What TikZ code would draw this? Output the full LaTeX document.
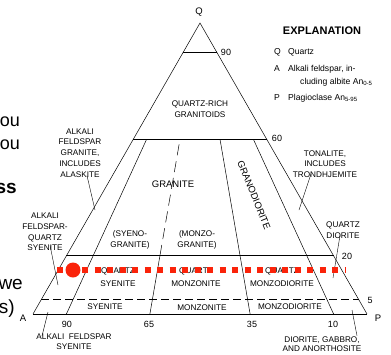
\documentclass[tikz,border=0pt]{standalone}
\usepackage{fontspec}
\setmainfont{Liberation Sans}
\usetikzlibrary{calc}
\definecolor{hlred}{RGB}{250,35,10}

\begin{document}
\begin{tikzpicture}[
  x=1pt, y=-1pt,
  edge/.style={line width=0.5pt, draw=black},
  heavy/.style={line width=1pt, draw=black},
  lead/.style={line width=0.4pt, draw=black},
  lbl/.style={align=center, inner sep=0pt, font=\fontsize{8.2}{10.8}\selectfont},
  big/.style={lbl, font=\fontsize{9.5}{11}\selectfont},
  num/.style={inner sep=0pt, font=\fontsize{9}{10}\selectfont},
  apex/.style={inner sep=0pt, font=\fontsize{9.5}{10}\selectfont},
  expl/.style={inner sep=0pt, anchor=base west, font=\fontsize{8.6}{10}\selectfont},
  slide/.style={inner sep=0pt, anchor=base east, font=\fontsize{18}{20}\selectfont},
  hl/.style={line width=6pt, draw=hlred, dash pattern=on 6pt off 6.5pt},
]
\clip (0,0) rectangle (391,354);

% ---- slide text cut off at the left ----
\node[slide] (s1) at (20,126) {ou};
\node[slide] (s2) at (20,149) {ou};
\node[slide, font=\fontsize{19}{20}\selectfont\bfseries] (s3) at (17,193) {ss};
\node[slide, font=\fontsize{19}{20}\selectfont] (s4) at (23,289) {we};
\node[slide, font=\fontsize{19}{20}\selectfont] (s5) at (15,313) {s)};

% ---- triangle ----
\coordinate (A) at (33,314);
\coordinate (P) at (367,314);
\coordinate (Q) at (200,23);
\coordinate (b90) at ($(A)!0.10!(P)$);
\coordinate (b65) at ($(A)!0.35!(P)$);
\coordinate (b35) at ($(A)!0.65!(P)$);
\coordinate (b10) at ($(A)!0.90!(P)$);

\draw[edge] (A) -- (Q) -- (P);
\draw[heavy] (A) -- (P);
\draw[edge] ($(A)!0.9!(Q)$) -- ($(P)!0.9!(Q)$);
\draw[edge] ($(A)!0.6!(Q)$) -- ($(P)!0.6!(Q)$);
\draw[heavy] ($(A)!0.2!(Q)$) -- ($(P)!0.2!(Q)$);
\draw[edge, dash pattern=on 8pt off 4pt] ($(A)!0.05!(Q)$) -- ($(P)!0.05!(Q)$);

\foreach \b in {b90,b35,b10}
  \draw[edge] (\b) -- ($(\b)!0.6!(Q)$);
\draw[edge] (b65) -- ($(b65)!0.2!(Q)$);
\draw[edge, dash pattern=on 11pt off 6pt] ($(b65)!0.2!(Q)$) -- ($(b65)!0.6!(Q)$);

% ---- corners and scale numbers ----
\node[apex] (lQ) at (199,12) {Q};
\node[apex] (lA) at (23,318) {A};
\node[apex] (lP) at (378,318) {P};
\node[num] (n90) at (226,52) {90};
\node[num] (n60) at (277,138) {60};
\node[num] (n20) at (347,256) {20};
\node[num] (n5) at (370,300) {5};
\node[num] (m90) at (67,324) {90};
\node[num] (m65) at (149,324) {65};
\node[num] (m35) at (252,324) {35};
\node[num] (m10) at (333,324) {10};

% ---- fields ----
\node[lbl] (qrg) at (200,109) {QUARTZ-RICH\\GRANITOIDS};
\node[big] (gra) at (173,184) {GRANITE};
\node[big, rotate=-68] (gdi) at (254,195) {GRANODIORITE};
\node[lbl] (syg) at (130,240) {(SYENO-\\GRANITE)};
\node[lbl] (mzg) at (197,240) {(MONZO-\\GRANITE)};
\node[lbl] (qsy) at (118,277) {QUARTZ\\[2pt]SYENITE};
\node[lbl] (qmz) at (196,277) {QUARTZ\\[2pt]MONZONITE};
\node[lbl] (qmd) at (282,277) {QUARTZ\\[2pt]MONZODIORITE};
\node[lbl] (sye) at (105,307) {SYENITE};
\node[lbl] (mzn) at (202,308) {MONZONITE};
\node[lbl] (mzd) at (290,307) {MONZODIORITE};

% ---- outside labels with leaders ----
\node[lbl] (afg) at (80,153) {ALKALI\\FELDSPAR\\GRANITE,\\INCLUDES\\ALASKITE};
\node[lbl] (afq) at (45,232) {ALKALI\\FELDSPAR-\\QUARTZ\\SYENITE};
\node[lbl] (afs) at (74,342) {ALKALI\ \ FELDSPAR\\[-1pt]SYENITE};
\node[lbl] (ton) at (325,164) {TONALITE,\\INCLUDES\\TRONDHJEMITE};
\node[lbl] (qdi) at (343,230) {QUARTZ\\DIORITE};
\node[lbl] (dga) at (322,344.5) {DIORITE,\ GABBRO,\\[-1.5pt]AND ANORTHOSITE};

\coordinate (afg-end) at (95,210);
\coordinate (afq-end) at (58,285);
\coordinate (afs-end) at (48,312);
\coordinate (ton-end) at (299,210);
\coordinate (qdi-end) at (333,278);
\coordinate (dga-end) at (352,310);
\draw[lead] ([xshift=7pt,yshift=2pt]afg.south) -- (afg-end);
\draw[lead] ([xshift=5pt,yshift=6pt]afq.south) -- (afq-end);
\draw[lead] ([xshift=-32pt,yshift=-2pt]afs.north) -- (afs-end);
\draw[lead] ([xshift=-14pt,yshift=4pt]ton.south) -- (ton-end);
\draw[lead] ([xshift=-3pt,yshift=3pt]qdi.south) -- (qdi-end);
\draw[lead] ([xshift=35pt,yshift=1pt]dga.north) -- (dga-end);

% ---- explanation ----
\node[inner sep=0pt, font=\fontsize{11}{12}\selectfont\bfseries] (ex) at (322,31) {EXPLANATION};
\node[expl] (kq) at (274,54) {Q};
\node[expl] (tq) at (288,54) {Quartz};
\node[expl] (ka) at (274,71) {A};
\node[expl] (ta) at (288,71) {Alkali feldspar, in-};
\node[expl] (ta2) at (300,84) {cluding albite An\textsubscript{0-5}};
\node[expl] (kp) at (274,100) {P};
\node[expl] (tp) at (288,100) {Plagioclase An\textsubscript{5-95}};

% ---- highlighted line ----
\coordinate (hl-start) at (57,270);
\coordinate (hl-end) at (346,270);
\draw[hl] (hl-start) -- (hl-end);
\node[circle, fill=hlred, minimum size=15pt, inner sep=0pt] (dot) at (73,270) {};
\end{tikzpicture}
\end{document}
